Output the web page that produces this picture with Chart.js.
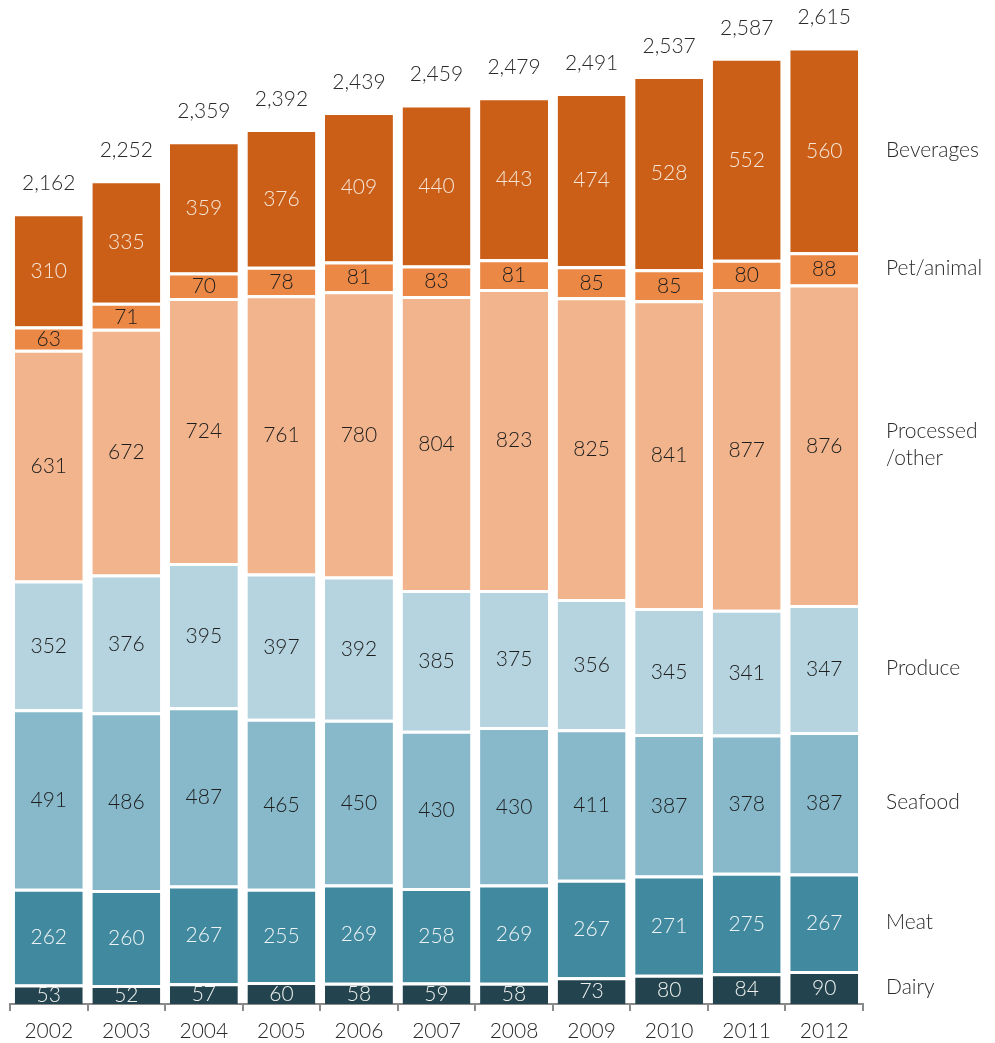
<!DOCTYPE html>
<html>
<head>
<meta charset="utf-8">
<script src="https://cdn.jsdelivr.net/npm/chart.js@4.4.1/dist/chart.umd.min.js"></script>
<style>
  html, body { margin: 0; padding: 0; background: #fff; }
  #wrap { width: 995px; height: 1043px; position: relative; }
</style>
</head>
<body>
<div id="wrap"><canvas id="grafica"></canvas></div>
<script>
// años y series (apiladas de abajo arriba)
const years = ["2002", "2003", "2004", "2005", "2006", "2007", "2008", "2009", "2010", "2011", "2012"];
const dairy     = [53, 52, 57, 60, 58, 59, 58, 73, 80, 84, 90];
const meat      = [262, 260, 267, 255, 269, 258, 269, 267, 271, 275, 267];
const seafood   = [491, 486, 487, 465, 450, 430, 430, 411, 387, 378, 387];
const produce   = [352, 376, 395, 397, 392, 385, 375, 356, 345, 341, 347];
const processed = [631, 672, 724, 761, 780, 804, 823, 825, 841, 877, 876];
const pet       = [63, 71, 70, 78, 81, 83, 81, 85, 85, 80, 88];
const beverages = [310, 335, 359, 376, 409, 440, 443, 474, 528, 552, 560];

const FUENTE = "Lato, 'Open Sans', sans-serif";

const series = [
    { label: ["Dairy"], data: dairy, color: "#23444f", text: "#eef0ee" },
    { label: ["Meat"], data: meat, color: "#41899f", text: "#eef3f5" },
    { label: ["Seafood"], data: seafood, color: "#87b9cb", text: "#1e1e1e" },
    { label: ["Produce"], data: produce, color: "#b6d4df", text: "#1e1e1e" },
    { label: ["Processed", "/other"], data: processed, color: "#f2b48c", text: "#1e1e1e" },
    { label: ["Pet/animal"], data: pet, color: "#ec8845", text: "#1e1e1e" },
    { label: ["Beverages"], data: beverages, color: "#cb5f17", text: "#f6e6d8" }
];

const totals = years.map((_, i) => series.reduce((s, d) => s + d.data[i], 0));

// números dentro de cada tramo, totales encima y leyenda a la derecha
const etiquetas = {
    id: "etiquetas",
    afterDatasetsDraw(chart) {
        const ctx = chart.ctx;
        ctx.save();
        ctx.font = "300 21px " + FUENTE;
        ctx.textAlign = "center";
        ctx.textBaseline = "middle";
        series.forEach((s, di) => {
            const meta = chart.getDatasetMeta(di);
            meta.data.forEach((bar, i) => {
                ctx.fillStyle = s.text;
                ctx.fillText(String(s.data[i]), bar.x, (bar.y + bar.base) / 2 + 1);
            });
            // leyenda junto al último año
            const last = meta.data[meta.data.length - 1];
            const cy = (last.y + last.base) / 2;
            ctx.fillStyle = "#2a2a2a";
            ctx.textAlign = "left";
            const n = s.label.length;
            s.label.forEach((line, k) => {
                ctx.fillText(line, chart.chartArea.right + 23, cy + (k - (n - 1) / 2) * 27);
            });
            ctx.textAlign = "center";
        });
        const top = chart.getDatasetMeta(series.length - 1);
        ctx.fillStyle = "#2a2a2a";
        top.data.forEach((bar, i) => {
            ctx.fillText(totals[i].toLocaleString("en-US"), bar.x, bar.y - 30);
        });
        ctx.restore();
    }
};

const ctx = document.getElementById("grafica").getContext("2d");
new Chart(ctx, {
    type: "bar",
    data: {
        labels: years,
        datasets: series.map(s => ({
            label: s.label.join(""),
            data: s.data,
            backgroundColor: s.color,
            borderColor: "#ffffff",
            borderWidth: { top: 3, left: 0, right: 0, bottom: 0 },
            borderSkipped: false,
            categoryPercentage: 1,
            barPercentage: 0.876
        }))
    },
    options: {
        responsive: true,
        maintainAspectRatio: false,
        animation: false,
        layout: { padding: { left: 10, right: 132, top: 0, bottom: 0 } },
        plugins: { legend: { display: false }, tooltip: { enabled: false } },
        scales: {
            x: {
                stacked: true,
                afterFit(scale) { scale.height = 39; },
                grid: { display: true, offset: true, drawOnChartArea: false, color: "#8a8a8a", lineWidth: 2, tickLength: 7 },
                border: { display: true, color: "#8a8a8a", width: 2 },
                ticks: { color: "#2a2a2a", font: { family: FUENTE, size: 21, weight: "300", lineHeight: 0.8 }, padding: 12 }
            },
            y: {
                stacked: true,
                display: false,
                min: 0,
                max: 2745
            }
        }
    },
    plugins: [etiquetas]
});
</script>
</body>
</html>
